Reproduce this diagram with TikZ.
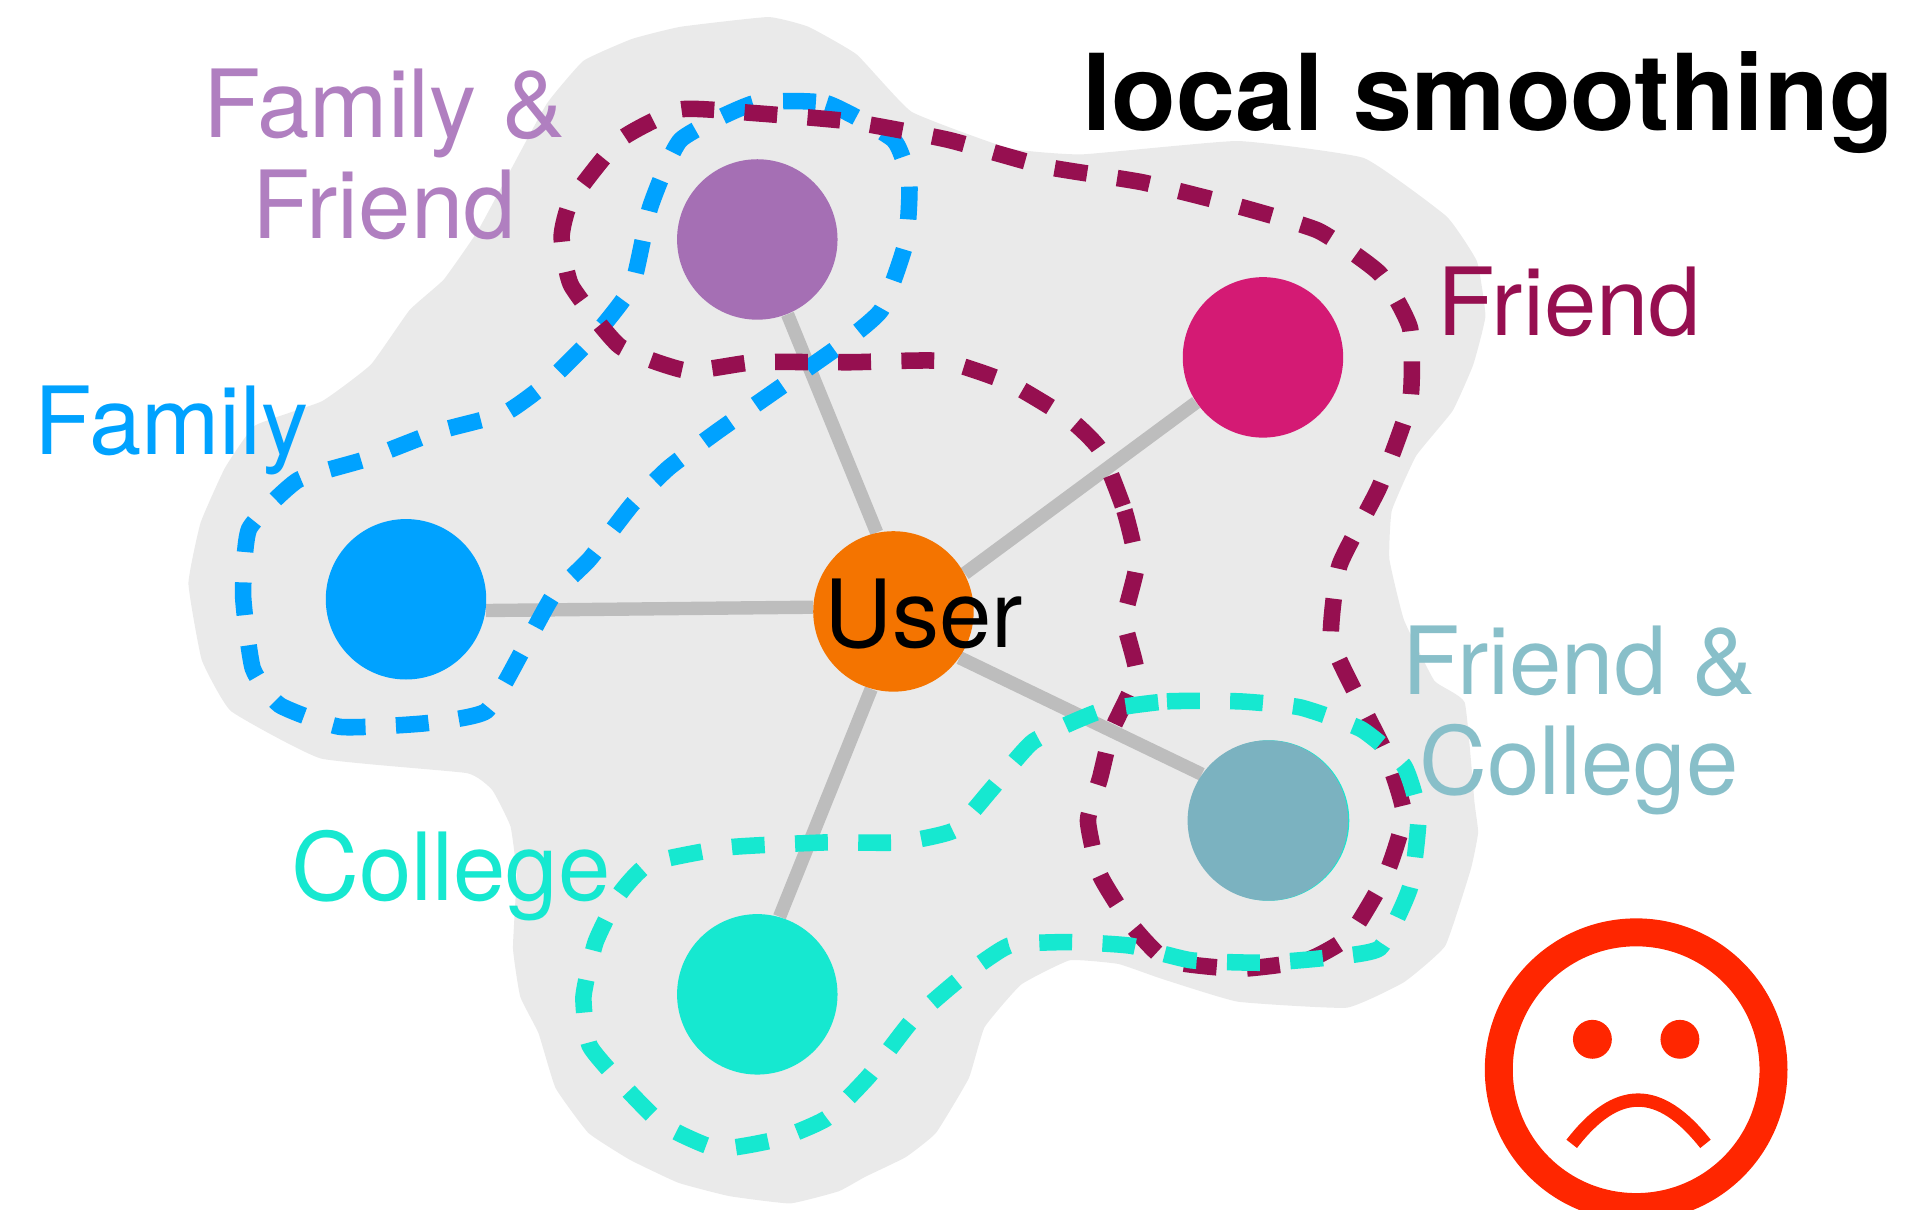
\documentclass[tikz,border=0pt]{standalone}
\usepackage{fontspec}
\setmainfont{TeX Gyre Heros}
\usetikzlibrary{backgrounds}
\definecolor{blobc}{HTML}{EAEAEA}
\definecolor{edgec}{HTML}{BDBDBD}
\definecolor{userc}{HTML}{F47400}
\definecolor{ffc}{HTML}{A56FB4}
\definecolor{ffl}{HTML}{B07FC0}
\definecolor{frc}{HTML}{D41A74}
\definecolor{frl}{HTML}{960F50}
\definecolor{fac}{HTML}{00A2FF}
\definecolor{coc}{HTML}{16E8D0}
\definecolor{fcc}{HTML}{7BB2C0}
\definecolor{fcl}{HTML}{88BFC9}
\definecolor{sadc}{HTML}{FF2600}
\tikzset{
  x=0.5pt,y=-0.5pt,
  person/.style={circle,inner sep=0pt,minimum size=66pt,fill=#1,draw=none},
  link/.style={draw=edgec,line width=5.5pt},
  group/.style={draw=#1,line width=6.8pt,dash pattern=on 13.5pt off 12.5pt},
  lab/.style={font=\fontsize{38.7}{41.5}\selectfont,text=#1,align=center,anchor=base,inner sep=0pt},
}
\begin{document}
\begin{tikzpicture}
\clip (0,0) rectangle (1568,995);
\node[person=userc] (user) at (735,503) {};
\node[person=ffc] (ff) at (623,197) {};
\node[person=frc] (fr) at (1039,294) {};
\node[person=fac] (fa) at (334,493) {};
\node[person=coc] (co) at (623,818) {};
\node[person=fcc] (fc) at (1043,675) {};
\begin{scope}[on background layer]
\fill[blobc] plot[smooth cycle,tension=0.22] coordinates {(560,22)(632,14)(665,22)(705,45)(750,92)(830,122)(890,127)(1018,116)(1122,130)(1190,178)(1215,215)(1222,260)(1212,300)(1195,338)(1165,375)(1145,420)(1143,460)(1155,510)(1180,560)(1205,578)(1213,660)(1216,685)(1210,715)(1189,778)(1155,808)(1108,829)(1018,824)(955,805)(920,793)(880,790)(840,810)(810,845)(797,887)(770,932)(745,952)(712,968)(690,980)(650,990)(600,984)(558,973)(518,954)(484,932)(457,895)(443,850)(428,820)(422,780)(425,720)(420,680)(405,650)(384,636)(264,624)(190,585)(166,543)(155,480)(165,430)(185,385)(210,350)(265,330)(305,300)(337,255)(365,230)(393,190)(420,140)(450,85)(480,50)(520,32)};
\draw[link] (user.102) -- (ff.-68);
\draw[link] (user.28) -- (fr.-146);
\draw[link] (user.177) -- (fa.-8);
\draw[link] (user.-106) -- (co.74);
\draw[link] (user.-35) -- (fc.145);
\fill[coc] (1044,675) circle (66);
\end{scope}
\draw[group=fac] plot[smooth cycle,tension=0.3] coordinates {(620,85)(680,85)(735,115)(748,150)(745,200)(725,255)(690,285)(640,320)(590,355)(550,385)(520,415)(485,460)(455,490)(430,535)(400,585)(350,595)(280,598)(230,580)(208,550)(200,490)(205,435)(245,395)(300,378)(360,355)(415,340)(450,315)(490,275)(520,235)(535,170)(560,115)};
\draw[group=frl] plot[smooth cycle,tension=0.3] coordinates {(905,370)(925,420)(935,465)(925,510)(935,555)(915,600)(905,640)(895,675)(905,720)(930,760)(960,790)(1020,797)(1075,790)(1110,770)(1140,720)(1155,670)(1140,620)(1115,570)(1095,525)(1102,465)(1135,400)(1160,330)(1160,270)(1135,225)(1085,190)(1020,170)(940,150)(860,137)(780,115)(700,100)(620,93)(560,90)(510,115)(470,165)(462,195)(470,235)(510,285)(565,305)(620,298)(700,298)(775,297)(830,315)(880,345)};
\draw[group=coc] plot[smooth cycle,tension=0.3] coordinates {(905,585)(960,577)(1020,577)(1070,582)(1120,600)(1155,630)(1167,670)(1160,730)(1135,780)(1090,788)(1040,792)(980,790)(930,778)(880,775)(830,778)(790,805)(750,840)(715,885)(680,920)(640,937)(590,945)(545,925)(510,890)(485,860)(480,820)(490,775)(510,735)(535,710)(600,697)(680,693)(740,693)(785,683)(815,650)(850,610)};
\node[lab=ffl] (lff) at (316,196) {Family \&\\Friend};
\node[lab=frl] (lfr) at (1291,276) {Friend};
\node[lab=fac] (lfa) at (141,374) {Family};
\node[lab=black] (lu) at (760,533) {User};
\node[lab=coc] (lco) at (371,741) {College};
\node[lab=fcl] (lfc) at (1299,654) {Friend \&\\College};
\node[anchor=base,inner sep=0pt,font=\fontsize{43.6}{43.6}\selectfont\bfseries] (title) at (1224,107) {local smoothing};
% sad face
\draw[draw=sadc,line width=11.5pt] (1346,880) circle (113);
\fill[sadc] (1310,855) circle (16);
\fill[sadc] (1382,855) circle (16);
\draw[draw=sadc,line width=5.5pt] (1293,941) .. controls (1330,893) and (1365,893) .. (1403,941);
\end{tikzpicture}
\end{document}
